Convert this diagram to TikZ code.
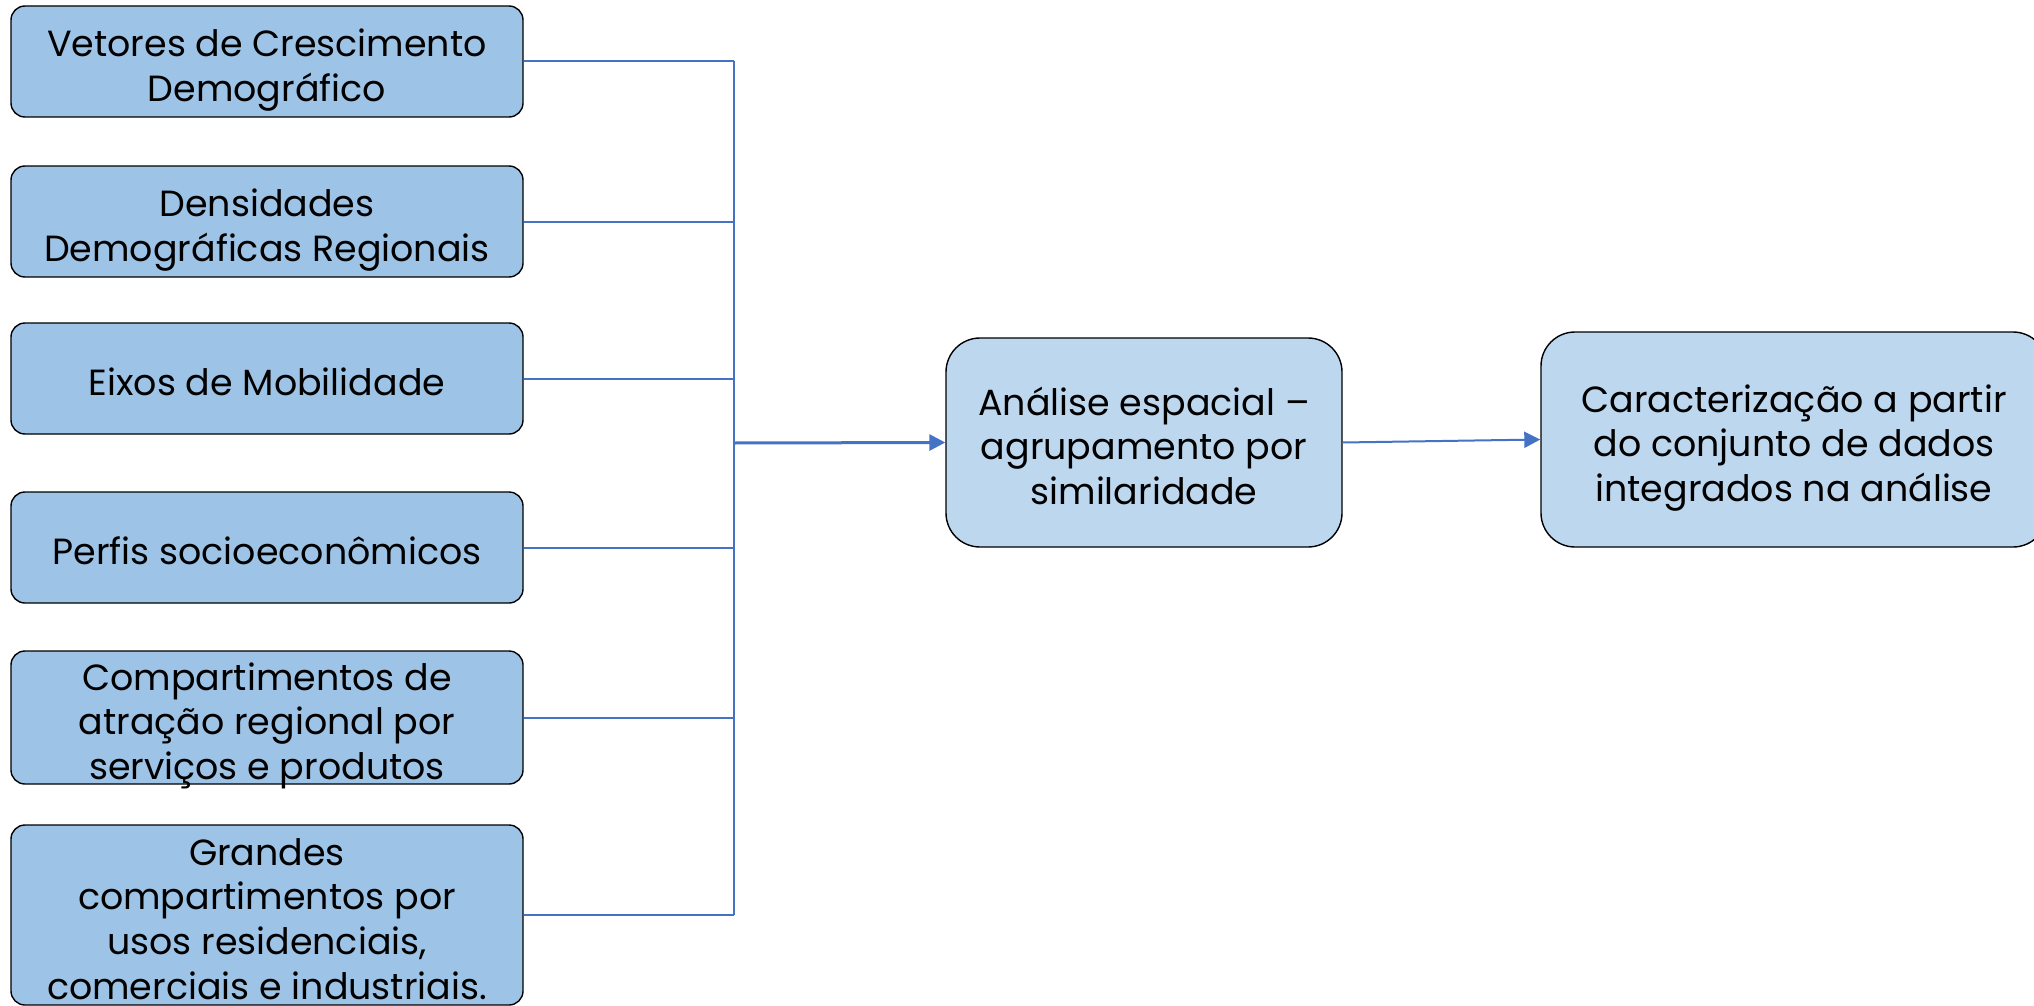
\documentclass[tikz,border=0pt]{standalone}
\usepackage{fontspec}
\setmainfont{Poppins}
\usetikzlibrary{positioning,arrows.meta}
\definecolor{factorblue}{HTML}{9DC3E6}
\definecolor{stageblue}{HTML}{BDD7EE}
\definecolor{linkblue}{HTML}{4472C4}
% text lines of a box, set a little low as in the source slide
\newcommand{\boxlines}[1]{\raisebox{-8.5pt}[0pt][0pt]{\begin{tabular}{@{}c@{}}#1\end{tabular}}}

\begin{document}
\begin{tikzpicture}[
  x=0.5pt, y=-0.5pt,
  >={Triangle[length=8pt,width=8pt]},   % default arrow tip
  factor/.style={rectangle, draw, line width=0.7pt, rounded corners=7pt, fill=factorblue,
    minimum width=256pt, minimum height=55.5pt, inner sep=0pt,
    font=\fontsize{18.2}{22.4}\selectfont},
  stage/.style={rectangle, draw, line width=0.7pt, rounded corners=17pt, fill=stageblue,
    inner sep=0pt, font=\fontsize{18.2}{22.4}\selectfont},
  link/.style={draw=linkblue, line width=1pt}
]
\clip (0,0) rectangle (2034,1006);

% Input factors
\node[factor] (vetores)  at (267,61.5)  {\boxlines{Vetores de Crescimento\\Demográfico}};
\node[factor] (densid)   at (267,221.5) {\boxlines{Densidades\\Demográficas Regionais}};
\node[factor] (eixos)    at (267,378.5) {\boxlines{Eixos de Mobilidade}};
\node[factor] (perfis)   at (267,547.5) {\boxlines{Perfis socioeconômicos}};
\node[factor, minimum height=66.5pt] (compart) at (267,717.5)
  {\boxlines{Compartimentos de\\atração regional por\\serviços e produtos}};
\node[factor, minimum height=90pt]   (usos)    at (267,915)
  {\boxlines{Grandes\\compartimentos por\\usos residenciais,\\comerciais e industriais.}};

% Analysis stages
\node[stage, minimum width=198pt, minimum height=104.5pt] (analise) at (1144,442.5)
  {\boxlines{Análise espacial –\\agrupamento por\\similaridade}};
\node[stage, minimum width=253pt, minimum height=107.5pt] (carac)   at (1794,439.5)
  {\boxlines{Caracterização a partir\\do conjunto de dados\\integrados na análise}};

\coordinate (hub) at (734,443);

% Edges
\foreach \n in {vetores,densid,eixos,perfis,compart,usos}
  \draw[link] (\n.east) -- (\n.east -| hub);
\draw[link] (vetores.east -| hub) -- (usos.east -| hub);
\draw[link, line width=1.5pt, ->] (hub) -- (analise.west);
\draw[link, ->] (analise.east) -- (carac.west);
\end{tikzpicture}
\end{document}
